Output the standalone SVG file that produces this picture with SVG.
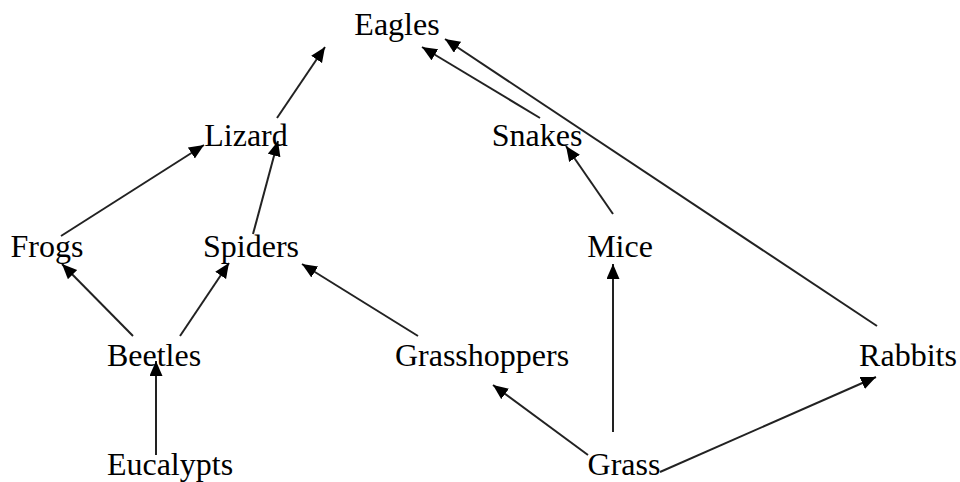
<svg xmlns="http://www.w3.org/2000/svg" width="960" height="482" viewBox="0 0 960 482">
<style>
.n text{font-family:'Liberation Serif','Times New Roman',Times,'DejaVu Serif',serif;font-size:32px;fill:#000;text-anchor:middle}
.e line{stroke:#222;stroke-width:2;marker-end:url(#ah)}
</style>
<defs>
<marker id="ah" markerUnits="userSpaceOnUse" markerWidth="18" markerHeight="14" refX="15" refY="6.5" orient="auto">
<path d="M0,0 L15,6.5 L0,13 Z" fill="#000"/>
</marker>
</defs>
<rect width="960" height="482" fill="#fff"/>
<g id="connectors" class="e">
<line x1="277" y1="118" x2="325" y2="47"/>
<line x1="61" y1="236" x2="204" y2="145"/>
<line x1="253" y1="234" x2="278" y2="141"/>
<line x1="133" y1="336" x2="62" y2="264"/>
<line x1="180" y1="336" x2="229" y2="263"/>
<line x1="156" y1="455" x2="156" y2="361"/>
<line x1="418" y1="336" x2="302" y2="264"/>
<line x1="588" y1="455" x2="493" y2="385"/>
<line x1="613" y1="432" x2="613" y2="264"/>
<line x1="660" y1="472" x2="876" y2="377"/>
<line x1="613" y1="214" x2="566" y2="146"/>
<line x1="540" y1="118" x2="422" y2="47"/>
<line x1="877" y1="326" x2="445" y2="39"/>
</g>
<g class="n" font-family="'Liberation Serif', 'Times New Roman', serif">
<g id="eagles"><text x="397" y="35" font-family="Liberation Serif">Eagles</text></g>
<g id="lizard"><text x="246" y="146" font-family="Liberation Serif">Lizard</text></g>
<g id="snakes"><text x="537" y="146" font-family="Liberation Serif">Snakes</text></g>
<g id="frogs"><text x="47" y="257" font-family="Liberation Serif">Frogs</text></g>
<g id="spiders"><text x="251" y="257" font-family="Liberation Serif">Spiders</text></g>
<g id="mice"><text x="620" y="257" font-family="Liberation Serif">Mice</text></g>
<g id="beetles"><text x="154" y="366" font-family="Liberation Serif">Beetles</text></g>
<g id="grasshoppers"><text x="482" y="366" font-family="Liberation Serif">Grasshoppers</text></g>
<g id="rabbits"><text x="908" y="366" font-family="Liberation Serif">Rabbits</text></g>
<g id="eucalypts"><text x="170" y="475" font-family="Liberation Serif">Eucalypts</text></g>
<g id="grass"><text x="624" y="475" font-family="Liberation Serif">Grass</text></g>
</g>
</svg>
